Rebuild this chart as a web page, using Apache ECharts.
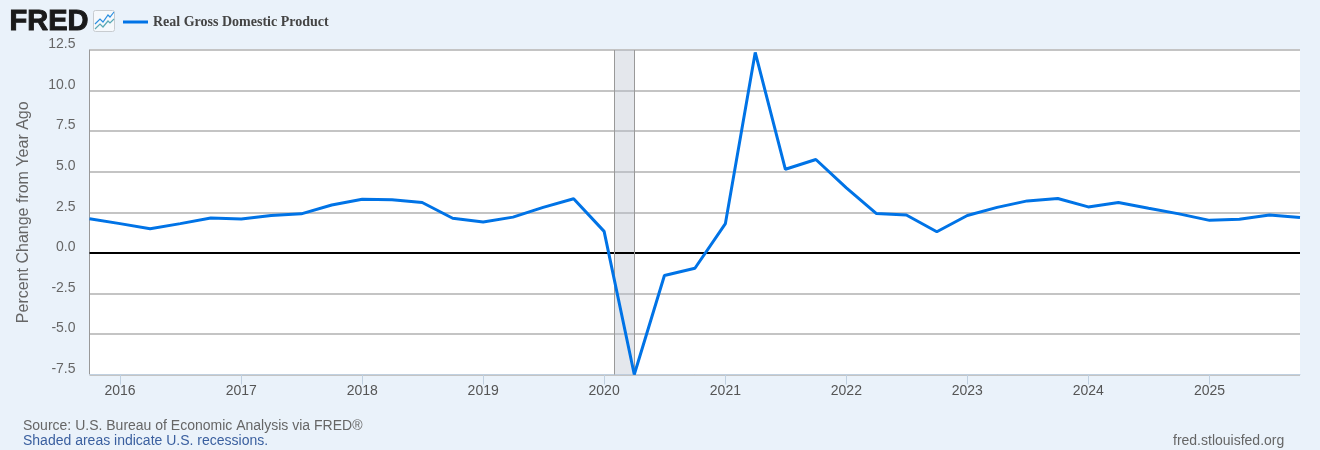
<!DOCTYPE html>
<html>
<head>
<meta charset="utf-8">
<style>html,body{margin:0;padding:0;background:#eaf2fa}#c{width:1320px;height:450px}</style>
<script src="https://cdn.jsdelivr.net/npm/echarts@6/dist/echarts.min.js"></script>
</head>
<body>
<div id="c"></div>
<script>
const quarters = ['2015-10-01','2016-01-01','2016-04-01','2016-07-01','2016-10-01','2017-01-01','2017-04-01','2017-07-01','2017-10-01','2018-01-01','2018-04-01','2018-07-01','2018-10-01','2019-01-01','2019-04-01','2019-07-01','2019-10-01','2020-01-01','2020-04-01','2020-07-01','2020-10-01','2021-01-01','2021-04-01','2021-07-01','2021-10-01','2022-01-01','2022-04-01','2022-07-01','2022-10-01','2023-01-01','2023-04-01','2023-07-01','2023-10-01','2024-01-01','2024-04-01','2024-07-01','2024-10-01','2025-01-01','2025-04-01','2025-07-01','2025-10-01'];
const gdpChange = [2.1,1.8,1.48,1.8,2.15,2.08,2.3,2.4,2.95,3.3,3.27,3.1,2.13,1.9,2.2,2.8,3.33,1.32,-7.5,-1.4,-0.95,1.8,12.35,5.15,5.75,4.0,2.43,2.33,1.3,2.3,2.8,3.2,3.35,2.83,3.1,2.75,2.4,2.0,2.07,2.33,2.18];
const yearTicks = ['2016-01-01','2017-01-01','2018-01-01','2019-01-01','2020-01-01','2021-01-01','2022-01-01','2023-01-01','2024-01-01','2025-01-01'];
const recession = ['2020-02-01','2020-04-01'];
const seriesName = 'Real Gross Domestic Product';
const yTitle = 'Percent Change from Year Ago';
const sourceText = 'Source: U.S. Bureau of Economic Analysis via FRED\u00AE';
const shadeText = 'Shaded areas indicate U.S. recessions.';
const siteText = 'fred.stlouisfed.org';

const t = s => Date.parse(s);
const sans = '"Liberation Sans", Arial, sans-serif';
const chart = echarts.init(document.getElementById('c'), null, {renderer:'canvas'});
chart.setOption({
  animation: false,
  backgroundColor: '#eaf2fa',
  textStyle: {fontFamily: sans},
  legend: {
    left: 123, top: 15,
    itemWidth: 25, itemHeight: 3, itemGap: 0,
    icon: 'rect',
    data: [seriesName],
    selectedMode: false,
    padding: 0,
    textStyle: {fontFamily: '"Liberation Serif", "Times New Roman", serif', fontWeight: 'bold', fontSize: 14, color: '#444', padding: [0,0,0,0]}
  },
  grid: {left: 89.5, top: 50, width: 1210.5, height: 324.5, show: true, backgroundColor: '#fff', borderWidth: 0, containLabel: false},
  xAxis: {
    type: 'value',
    min: t(quarters[0]),
    max: t(quarters[quarters.length-1]),
    scale: true,
    axisLine: {show: true, onZero: false, lineStyle: {color: '#c0d0e0', width: 1}},
    axisTick: {show: true, length: 10, lineStyle: {color: '#c0d0e0', width: 1}, customValues: yearTicks.map(t)},
    axisLabel: {
      show: true, margin: 10, fontSize: 14, color: '#555', fontFamily: sans,
      customValues: yearTicks.map(t),
      hideOverlap: false,
      formatter: v => String(new Date(v).getUTCFullYear())
    },
    splitLine: {show: false}
  },
  yAxis: {
    type: 'value',
    min: -7.5, max: 12.5, interval: 2.5,
    name: yTitle,
    nameLocation: 'middle',
    nameGap: 58,
    nameRotate: 90,
    nameTextStyle: {fontSize: 16, color: '#666', fontFamily: sans},
    axisLine: {show: true, onZero: false, lineStyle: {color: '#999', width: 1}},
    axisTick: {show: false},
    axisLabel: {
      margin: 14, fontSize: 14, lineHeight: 11, color: '#666', fontFamily: sans, verticalAlign: 'bottom',
      showMinLabel: true, showMaxLabel: true,
      formatter: v => v.toFixed(1)
    },
    splitLine: {show: true, lineStyle: {color: '#c4c4c4', width: 2}}
  },
  series: [{
    name: seriesName,
    type: 'line',
    data: quarters.map((q,i) => [t(q), gdpChange[i]]),
    showSymbol: false,
    symbol: 'none',
    smooth: false,
    clip: true,
    z: 5,
    lineStyle: {color: '#0073e6', width: 3, cap: 'butt', join: 'bevel'},
    itemStyle: {color: '#0073e6'},
    markArea: {
      silent: true,
      z: 1,
      itemStyle: {color: 'rgba(185,192,205,0.38)', borderWidth: 0},
      data: [[{xAxis: t(recession[0])},{xAxis: t(recession[1])}]]
    },
    markLine: {
      silent: true,
      symbol: 'none',
      animation: false,
      label: {show: false},
      data: [
        {yAxis: 0, lineStyle: {color: '#000', width: 2, type: 'solid'}},
        {xAxis: t(recession[0]), lineStyle: {color: '#999', width: 1, type: 'solid'}},
        {xAxis: t(recession[1]), lineStyle: {color: '#999', width: 1, type: 'solid'}}
      ]
    }
  }],
  graphic: [
    {type:'text', left: 9, top: 7, style:{text:'FRED', font:'900 29px "Liberation Sans", Arial, sans-serif', fill:'#1a1a1a', stroke:'#1a1a1a', lineWidth:1}},
    {type:'rect', shape:{x:93.5,y:10.5,width:21,height:21,r:2}, style:{fill:'#f6f9fc', stroke:'#c8ccd0', lineWidth:1}},
    {type:'polyline', shape:{points:[[95,24],[100,19],[103,22],[108,15],[110,17],[114,12]]}, style:{fill:'none', stroke:'#2b8fe0', lineWidth:1.2}},
    {type:'polyline', shape:{points:[[95,29],[100,24],[103,27],[108,21],[110,23],[114,19]]}, style:{fill:'none', stroke:'#5aa9b5', lineWidth:1.2}},
    {type:'text', left: 23, top: 419, style:{text: sourceText, font:'14px "Liberation Sans", Arial, sans-serif', fill:'#666'}},
    {type:'text', left: 23, top: 434, style:{text: shadeText, font:'14px "Liberation Sans", Arial, sans-serif', fill:'#3a5f9f'}},
    {type:'text', left: 1173, top: 434, style:{text: siteText, font:'14px "Liberation Sans", Arial, sans-serif', fill:'#666'}}
  ]
});
</script>
</body>
</html>
